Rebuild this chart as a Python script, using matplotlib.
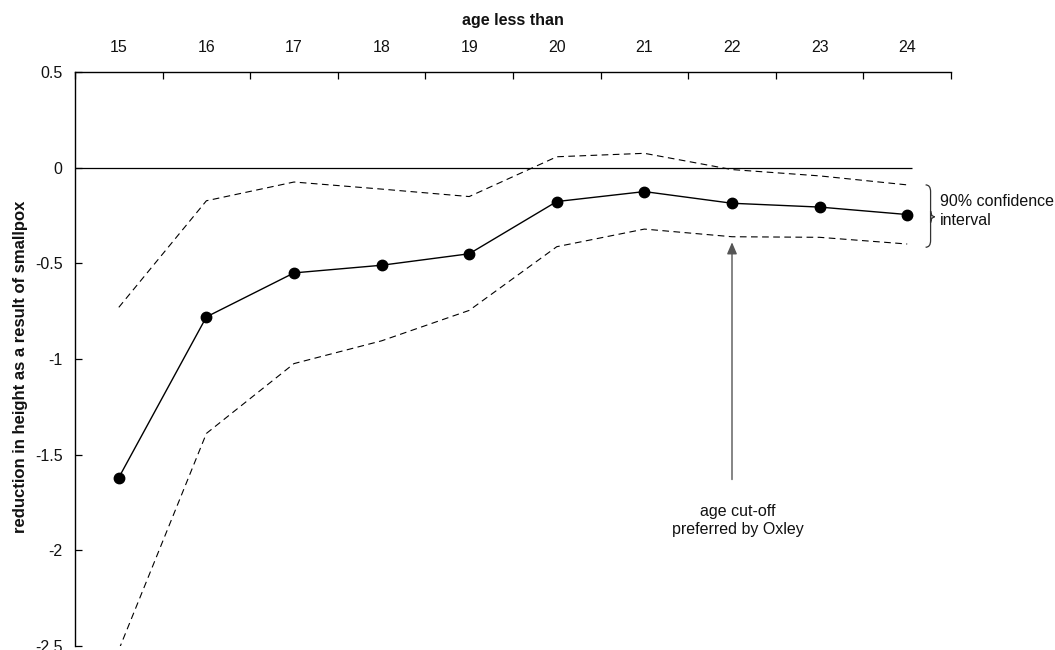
import matplotlib
matplotlib.use("Agg")
import matplotlib.pyplot as plt
from matplotlib.path import Path
from matplotlib.patches import PathPatch
import numpy as np

plt.rcParams['font.family'] = ['Liberation Sans', 'DejaVu Sans']

ages = ["15", "16", "17", "18", "19", "20", "21", "22", "23", "24"]
estimate = [-1.62, -0.78, -0.55, -0.51, -0.45, -0.177, -0.125, -0.186, -0.206, -0.245]
upper_ci = [-0.73, -0.173, -0.075, -0.112, -0.151, 0.057, 0.075, -0.01, -0.043, -0.09]
lower_ci = [-2.52, -1.389, -1.024, -0.905, -0.746, -0.413, -0.321, -0.361, -0.364, -0.399]
yticks = [0.5, 0, -0.5, -1, -1.5, -2, -2.5]
ytick_labels = ["0.5", "0", "-0.5", "-1", "-1.5", "-2", "-2.5"]

FS = 11.5
fig = plt.figure(figsize=(10.55, 6.5), dpi=100)
ax = fig.add_axes([75/1055, 4/650, (951-75)/1055, (646-72)/650])

x = np.arange(len(ages))
txt = '#111111'

# zero line
ax.plot([-0.5, 9.05], [0, 0], color='black', lw=0.9, solid_capstyle='butt')

ax.plot(x, upper_ci, color='black', lw=0.8, dashes=(6, 4))
ax.plot(x, lower_ci, color='black', lw=0.8, dashes=(6, 4))
ax.plot(x, estimate, color='black', lw=1.0, marker='o', markersize=7.5)

ax.set_xlim(-0.5, 9.5)
ax.set_ylim(-2.5, 0.5)

for s in ['bottom', 'right']:
    ax.spines[s].set_visible(False)
ax.spines['top'].set_linewidth(1.0)
ax.spines['left'].set_linewidth(1.0)

ax.xaxis.tick_top()
ax.set_xticks(x)
ax.set_xticklabels(ages, fontsize=FS, color=txt)
ax.set_xticks(np.arange(-0.5, 10, 1), minor=True)
ax.tick_params(axis='x', which='major', length=0, pad=12)
ax.tick_params(axis='x', which='minor', direction='in', length=5, width=0.9)
ax.xaxis.set_label_position('top')
ax.set_xlabel('age less than', fontsize=FS, fontweight='bold', color=txt, labelpad=11)

ax.set_yticks(yticks)
ax.set_yticklabels(ytick_labels, fontsize=FS, color=txt)
ax.tick_params(axis='y', direction='in', length=5, width=0.9, pad=9)
ax.set_ylabel('reduction in height as a result of smallpox', fontsize=12,
              fontweight='bold', color=txt)
ax.yaxis.set_label_coords(-47/876, 0.486)

# arrow annotation
ax.annotate('', xy=(7, -0.39), xytext=(7, -1.63),
            arrowprops=dict(arrowstyle='-|>,head_length=0.7,head_width=0.3',
                            color='#555555', lw=1.0, shrinkA=0, shrinkB=0))
ax.text(7.07, -1.845, 'age cut-off\npreferred by Oxley', ha='center', va='center',
        fontsize=FS, color=txt, linespacing=1.3)

# brace
bx, w, tip = 9.21, 0.057, 0.103
ytop, ybot, ymid = -0.09, -0.416, -0.257
verts = [(bx, ytop), (bx + w, ytop), (bx + w, ytop - 0.035),
         (bx + w, ymid - 0.03),
         (bx + w, ymid - 0.005), (bx + tip, ymid),
         (bx + w, ymid + 0.005), (bx + w, ymid + 0.03),
         (bx + w, ybot + 0.035),
         (bx + w, ybot), (bx, ybot)]
codes = [Path.MOVETO, Path.CURVE3, Path.CURVE3,
         Path.LINETO,
         Path.CURVE3, Path.CURVE3,
         Path.CURVE3, Path.CURVE3,
         Path.LINETO,
         Path.CURVE3, Path.CURVE3]
brace = PathPatch(Path(verts, codes), facecolor='none', edgecolor='#333333', lw=0.9,
                  clip_on=False)
ax.add_patch(brace)
ax.text(9.37, -0.226, '90% confidence\ninterval', ha='left', va='center', fontsize=FS,
        color=txt, linespacing=1.3)

fig.savefig('out.png', dpi=100)
